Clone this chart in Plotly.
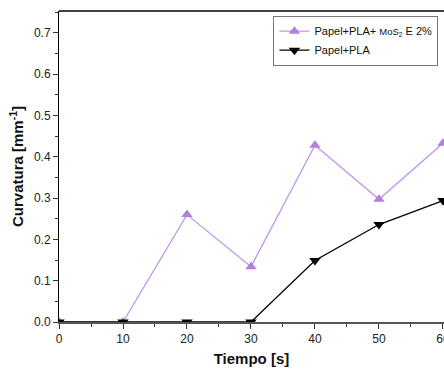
import plotly.graph_objects as go

tiempo = [0, 10, 20, 30, 40, 50, 60]
mos2 = [0.0, 0.0, 0.26, 0.134, 0.428, 0.297, 0.433]
pla = [0.0, 0.0, 0.0, 0.0, 0.149, 0.236, 0.294]

purple = "#b27fe0"

fig = go.Figure()
fig.add_trace(go.Scatter(
    x=tiempo, y=mos2, mode="lines+markers",
    name="Papel+PLA+ <span style='font-size:9.5px'>MoS<sub>2</sub></span> E 2%",
    line=dict(color="#c097ee", width=1.3),
    marker=dict(symbol="triangle-up", size=10, color=purple),
    cliponaxis=True,
))
fig.add_trace(go.Scatter(
    x=tiempo, y=pla, mode="lines+markers", name="Papel+PLA",
    line=dict(color="black", width=1.3),
    marker=dict(symbol="triangle-down", size=10, color="black"),
    cliponaxis=True,
))

fig.update_layout(
    width=444, height=371,
    margin=dict(l=59, r=0, t=11, b=49, autoexpand=False),
    paper_bgcolor="white", plot_bgcolor="white",
    font=dict(family="Liberation Sans, Arial, sans-serif", size=12, color="#222"),
    showlegend=True,
    legend=dict(
        x=0.557, y=0.985, xanchor="left", yanchor="top",
        bordercolor="#777", borderwidth=1, bgcolor="white",
        font=dict(size=11, color="#111"),
        tracegroupgap=4,
    ),
    xaxis=dict(
        range=[0, 60.16], tickmode="array", tickvals=tiempo,
        ticks="outside", ticklen=5, tickwidth=1, tickcolor="#333",
        ticklabeloverflow="allow", automargin=False,
        minor=dict(dtick=5, ticks="outside", ticklen=3, tickcolor="#333"),
        showline=True, linecolor="#555", linewidth=2,
        showgrid=False, zeroline=False,
        title=dict(text="<b>Tiempo [s]</b>", font=dict(size=15, color="#111"), standoff=8),
    ),
    yaxis=dict(
        range=[0, 0.753], dtick=0.1, tick0=0, tickformat=".1f",
        ticks="outside", ticklen=5, tickwidth=1, tickcolor="#333",
        automargin=False,
        minor=dict(dtick=0.05, ticks="outside", ticklen=3, tickcolor="#333"),
        showline=True, linecolor="black", linewidth=1,
        showgrid=False, zeroline=False,
        title=dict(text="<b>Curvatura [mm<sup>-1</sup>]</b>", font=dict(size=15, color="#111"), standoff=6),
    ),
)
fig.add_shape(type="line", xref="paper", yref="paper", x0=0, x1=1, y0=1, y1=1,
              line=dict(color="black", width=1.5))

fig.write_html("out.html")
